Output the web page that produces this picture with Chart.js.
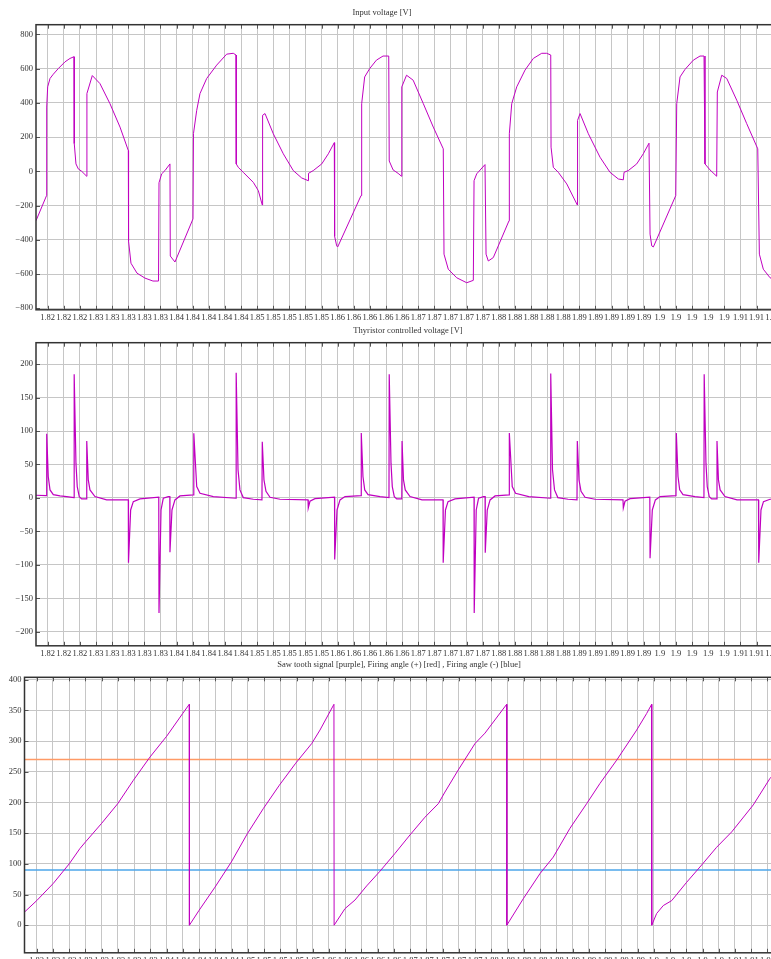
<!DOCTYPE html>
<html lang="en">
<head>
<meta charset="UTF-8">
<title>Thyristor controller signals</title>
<script src="https://cdn.jsdelivr.net/npm/chart.js"></script>
<style>
  html, body {
    margin: 0;
    padding: 0;
    background: #fff;
    width: 771px;
    height: 959px;
    overflow: hidden;
  }
  canvas {
    position: absolute;
    left: 0;
  }
</style>
</head>
<body>
<canvas id="inputChart" width="816" height="326" style="top:0px"></canvas>
<canvas id="thyChart" width="816" height="340" style="top:322px"></canvas>
<canvas id="sawChart" width="798" height="311" style="top:658px"></canvas>

<script>
// input voltage [V]
const inputTime = [1.81855, 1.81985, 1.81988, 1.82000, 1.82029, 1.82070, 1.82132, 1.82215, 1.82277, 1.82327,
  1.82330, 1.82351, 1.82380, 1.82422, 1.82484, 1.82487, 1.82554, 1.82649, 1.82773, 1.82898,
  1.83001, 1.83004, 1.83034, 1.83109, 1.83208, 1.83307, 1.83376, 1.83382, 1.83415, 1.83456,
  1.83518, 1.83522, 1.83580, 1.83804, 1.83810, 1.83850, 1.83891, 1.83974, 1.84098, 1.84222,
  1.84304, 1.84338, 1.84341, 1.84366, 1.84428, 1.84553, 1.84615, 1.84664, 1.84668, 1.84698,
  1.84801, 1.84925, 1.85049, 1.85153, 1.85235, 1.85238, 1.85297, 1.85402, 1.85484, 1.85558,
  1.85562, 1.85588, 1.85600, 1.85890, 1.85898, 1.85935, 1.85998, 1.86081, 1.86163, 1.86234,
  1.86240, 1.86288, 1.86350, 1.86392, 1.86396, 1.86455, 1.86537, 1.86663, 1.86787, 1.86911,
  1.86920, 1.86973, 1.87078, 1.87202, 1.87284, 1.87293, 1.87326, 1.87429, 1.87442, 1.87470,
  1.87532, 1.87727, 1.87731, 1.87761, 1.87823, 1.87926, 1.88029, 1.88133, 1.88195, 1.88245,
  1.88249, 1.88277, 1.88339, 1.88444, 1.88575, 1.88578, 1.88609, 1.88712, 1.88857, 1.88981,
  1.89084, 1.89146, 1.89155, 1.89208, 1.89312, 1.89394, 1.89465, 1.89478, 1.89499, 1.89519,
  1.89797, 1.89809, 1.89850, 1.89912, 1.90015, 1.90098, 1.90148, 1.90160, 1.90222, 1.90305,
  1.90313, 1.90368, 1.90430, 1.90554, 1.90678, 1.90815, 1.90835, 1.90884, 1.90968, 1.91043,
  1.91220];
const inputVolt = [-289, -143, 375, 493, 542, 567, 600, 639, 659, 669,
  162, 43, 14, 0, -29, 454, 559, 512, 395, 258,
  121, -408, -537, -595, -624, -641, -641, -67, -15, 4,
  43, -495, -530, -278, 220, 356, 454, 542, 620, 684,
  689, 679, 43, 23, -6, -65, -113, -197, 327, 337,
  219, 102, 4, -39, -55, -12, 4, 43, 102, 167,
  -380, -436, -442, -142, 395, 551, 600, 649, 673, 673,
  60, 8, -12, -29, 493, 561, 532, 395, 258, 131,
  -484, -572, -622, -651, -637, -55, -15, 39, -484, -524,
  -504, -289, 219, 395, 493, 591, 659, 689, 689, 679,
  141, 23, -6, -74, -197, 297, 337, 219, 82, -6,
  -45, -50, -6, 4, 43, 102, 164, -367, -436, -442,
  -142, 395, 551, 595, 649, 673, 673, 43, 8, -29,
  463, 561, 542, 415, 278, 131, -484, -572, -622, -640,
  -650];

// thyristor controlled voltage [V]
const thyTime = [1.81855, 1.81985, 1.81988, 1.82007, 1.82029, 1.82070, 1.82153, 1.82236, 1.82327, 1.82329,
  1.82351, 1.82367, 1.82392, 1.82422, 1.82482, 1.82485, 1.82504, 1.82525, 1.82587, 1.82732,
  1.83001, 1.83003, 1.83030, 1.83063, 1.83146, 1.83379, 1.83382, 1.83407, 1.83435, 1.83497,
  1.83516, 1.83518, 1.83543, 1.83580, 1.83642, 1.83810, 1.83814, 1.83850, 1.83891, 1.84056,
  1.84338, 1.84340, 1.84363, 1.84387, 1.84428, 1.84553, 1.84660, 1.84664, 1.84685, 1.84710,
  1.84760, 1.84884, 1.85232, 1.85235, 1.85256, 1.85318, 1.85443, 1.85561, 1.85563, 1.85592,
  1.85629, 1.85691, 1.85890, 1.85893, 1.85914, 1.85936, 1.85977, 1.86126, 1.86237, 1.86240,
  1.86262, 1.86278, 1.86303, 1.86333, 1.86396, 1.86399, 1.86417, 1.86439, 1.86498, 1.86647,
  1.86908, 1.86910, 1.86938, 1.86970, 1.87057, 1.87293, 1.87295, 1.87320, 1.87349, 1.87411,
  1.87430, 1.87432, 1.87457, 1.87492, 1.87554, 1.87728, 1.87731, 1.87767, 1.87808, 1.87973,
  1.88242, 1.88245, 1.88267, 1.88292, 1.88333, 1.88460, 1.88571, 1.88575, 1.88596, 1.88621,
  1.88671, 1.88795, 1.89142, 1.89146, 1.89167, 1.89229, 1.89354, 1.89475, 1.89478, 1.89506,
  1.89544, 1.89602, 1.89800, 1.89804, 1.89825, 1.89846, 1.89887, 1.90036, 1.90147, 1.90150,
  1.90172, 1.90188, 1.90213, 1.90243, 1.90306, 1.90309, 1.90327, 1.90348, 1.90408, 1.90557,
  1.90824, 1.90827, 1.90855, 1.90886, 1.90967, 1.91215];
const thyVolt = [4, 3.5, 96, 32, 12, 5, 3, 2, 0.5, 185,
  52, 17, 2, -1.5, -1.5, 85, 27, 12, 2, -3,
  -3, -97, -18, -5.5, -1.5, 1, -172, -18, -0.5, 2,
  2, -81, -18, -3, 3, 4.5, 96.5, 17, 7, 2,
  -0.5, 187, 42, 12, 0.5, -2, -3, 84, 27, 10,
  1, -2, -3, -15, -5, -1, 0, 1, -92, -18,
  -3, 2, 3.5, 97, 32, 12, 5, 2, 0.5, 185,
  52, 17, 2, -1.5, -1.5, 85, 27, 12, 2, -3,
  -3, -97, -18, -5.5, -1.5, 1, -172, -18, -0.5, 2,
  2, -82, -18, -3, 3, 4.5, 97, 17, 7, 2,
  -0.5, 186, 42, 12, 0.5, -2, -3, 85, 27, 10,
  1, -2, -3, -15, -5, -1, 0, 1, -90, -18,
  -3, 2, 3.5, 97, 32, 12, 5, 2, 0.5, 185,
  52, 17, 2, -1.5, -1.5, 85, 27, 12, 2, -3,
  -3, -97, -18, -5.5, -2, -1.5];

// saw tooth signal [deg]
const sawTime = [1.81847, 1.82000, 1.82204, 1.82401, 1.82533, 1.82603, 1.82800, 1.82998, 1.83190, 1.83395,
  1.83601, 1.83798, 1.83879, 1.83881, 1.83999, 1.84196, 1.84397, 1.84594, 1.84791, 1.84988,
  1.85190, 1.85387, 1.85489, 1.85661, 1.85663, 1.85797, 1.85920, 1.86064, 1.86228, 1.86413,
  1.86597, 1.86782, 1.86946, 1.87028, 1.87192, 1.87398, 1.87521, 1.87788, 1.87790, 1.87992,
  1.88198, 1.88362, 1.88568, 1.88773, 1.88937, 1.89143, 1.89389, 1.89512, 1.89574, 1.89575,
  1.89635, 1.89717, 1.89820, 1.90005, 1.90189, 1.90374, 1.90559, 1.90825, 1.91030, 1.91154];
const sawAngle = [21, 40, 68, 100, 125, 136, 166, 198, 236, 274,
  308, 345, 360, 0, 24, 62, 103, 149, 190, 228,
  264, 296, 318, 360, 0, 27, 41, 64, 88, 117,
  147, 176, 198, 217, 253, 296, 313, 360, 0, 43,
  84, 111, 158, 198, 231, 269, 318, 345, 360, 0,
  19, 32, 40, 70, 98, 127, 152, 196, 239, 256];

const firingPos = 270;
const firingNeg = 90;

// y tick labels of the three panels
const inputTicks = [-800, -600, -400, -200, 0, 200, 400, 600, 800];
const thyTicks = [-200, -150, -100, -50, 0, 50, 100, 150, 200];
const sawTicks = [0, 50, 100, 150, 200, 250, 300, 350, 400];

const serif = { family: 'Liberation Serif', size: 8.5 };
const lineColor = '#c000c0';

function pairs(xs, ys) {
  return xs.map((x, i) => ({ x: x, y: ys[i] }));
}

// title, dark box round the plot, short inward tick marks
const frame = {
  id: 'frame',
  afterDatasetsDraw(chart, args, opts) {
    const { ctx, chartArea: a, scales } = chart;
    ctx.save();
    ctx.strokeStyle = '#555';
    ctx.lineWidth = 1;
    ctx.beginPath();
    scales.x.ticks.forEach(t => {
      const px = Math.round(scales.x.getPixelForValue(t.value)) + 0.5;
      ctx.moveTo(px, a.top);
      ctx.lineTo(px, a.top + 4);
      ctx.moveTo(px, a.bottom);
      ctx.lineTo(px, a.bottom - 4);
    });
    scales.y.ticks.forEach(t => {
      const py = Math.round(scales.y.getPixelForValue(t.value)) + 0.5;
      ctx.moveTo(a.left, py);
      ctx.lineTo(a.left + 4, py);
    });
    ctx.stroke();
    ctx.strokeStyle = '#333';
    ctx.lineWidth = 1.5;
    ctx.strokeRect(a.left, a.top, a.right - a.left, a.bottom - a.top);

    ctx.fillStyle = '#333';
    ctx.font = serif.size + 'px "' + serif.family + '"';
    ctx.textAlign = 'center';
    ctx.textBaseline = 'middle';
    ctx.fillText(opts.text, opts.x, opts.y);
    ctx.restore();
  }
};

function makeChart(id, title, datasets, opt) {
  return new Chart(document.getElementById(id), {
    type: 'line',
    data: { datasets: datasets },
    options: {
      responsive: false,
      animation: false,
      layout: { padding: { top: opt.top }, autoPadding: false },
      elements: { point: { radius: 0 }, line: { tension: 0 } },
      plugins: {
        legend: { display: false },
        tooltip: { enabled: false },
        title: { display: false },
        frame: { text: title, x: opt.titleX, y: opt.titleY }
      },
      scales: {
        x: {
          type: 'linear',
          min: opt.xMin,
          max: opt.xMax,
          border: { display: false },
          grid: { color: '#c6c6c6', lineWidth: 1, drawTicks: false },
          ticks: {
            stepSize: 0.002,
            includeBounds: false,
            autoSkip: false,
            maxRotation: 0,
            padding: 3,
            color: '#333',
            font: serif,
            callback: v => String(+v.toFixed(2))
          }
        },
        y: {
          min: opt.yMin,
          max: opt.yMax,
          afterBuildTicks: s => { s.ticks = opt.yTicks.map(v => ({ value: v })); },
          afterFit: s => { s.width = opt.yWidth; },
          border: { display: false },
          grid: { color: '#c6c6c6', lineWidth: 1, drawTicks: false },
          ticks: {
            padding: 3,
            color: '#333',
            font: serif,
            callback: v => String(v).replace('-', '\u2212')
          }
        }
      }
    },
    plugins: [frame]
  });
}

makeChart('inputChart', 'Input voltage [V]', [
  { data: pairs(inputTime, inputVolt), borderColor: lineColor, borderWidth: 1 }
], { xMin: 1.81855, xMax: 1.91538, yMin: -809, yMax: 856, yTicks: inputTicks, yWidth: 36,
     top: 24.7, titleX: 382, titleY: 12.5 });

makeChart('thyChart', 'Thyristor controlled voltage [V]', [
  { data: pairs(thyTime, thyVolt), borderColor: lineColor, borderWidth: 1.2 }
], { xMin: 1.81855, xMax: 1.91538, yMin: -221, yMax: 232, yTicks: thyTicks, yWidth: 36,
     top: 20.7, titleX: 408, titleY: 8.5 });

makeChart('sawChart', 'Saw tooth signal [purple], Firing angle (+) [red] , Firing angle (-) [blue]', [
  { data: pairs(sawTime, sawAngle), borderColor: lineColor, borderWidth: 1 },
  { data: [{ x: 1.8185, y: firingPos }, { x: 1.914, y: firingPos }], borderColor: '#ff9a66', borderWidth: 1.4 },
  { data: [{ x: 1.8185, y: firingNeg }, { x: 1.914, y: firingNeg }], borderColor: '#4da6ea', borderWidth: 1.4 }
], { xMin: 1.8185, xMax: 1.91376, yMin: -45, yMax: 404, yTicks: sawTicks, yWidth: 24.5,
     top: 19.3, titleX: 399, titleY: 6.5 });
</script>
</body>
</html>
